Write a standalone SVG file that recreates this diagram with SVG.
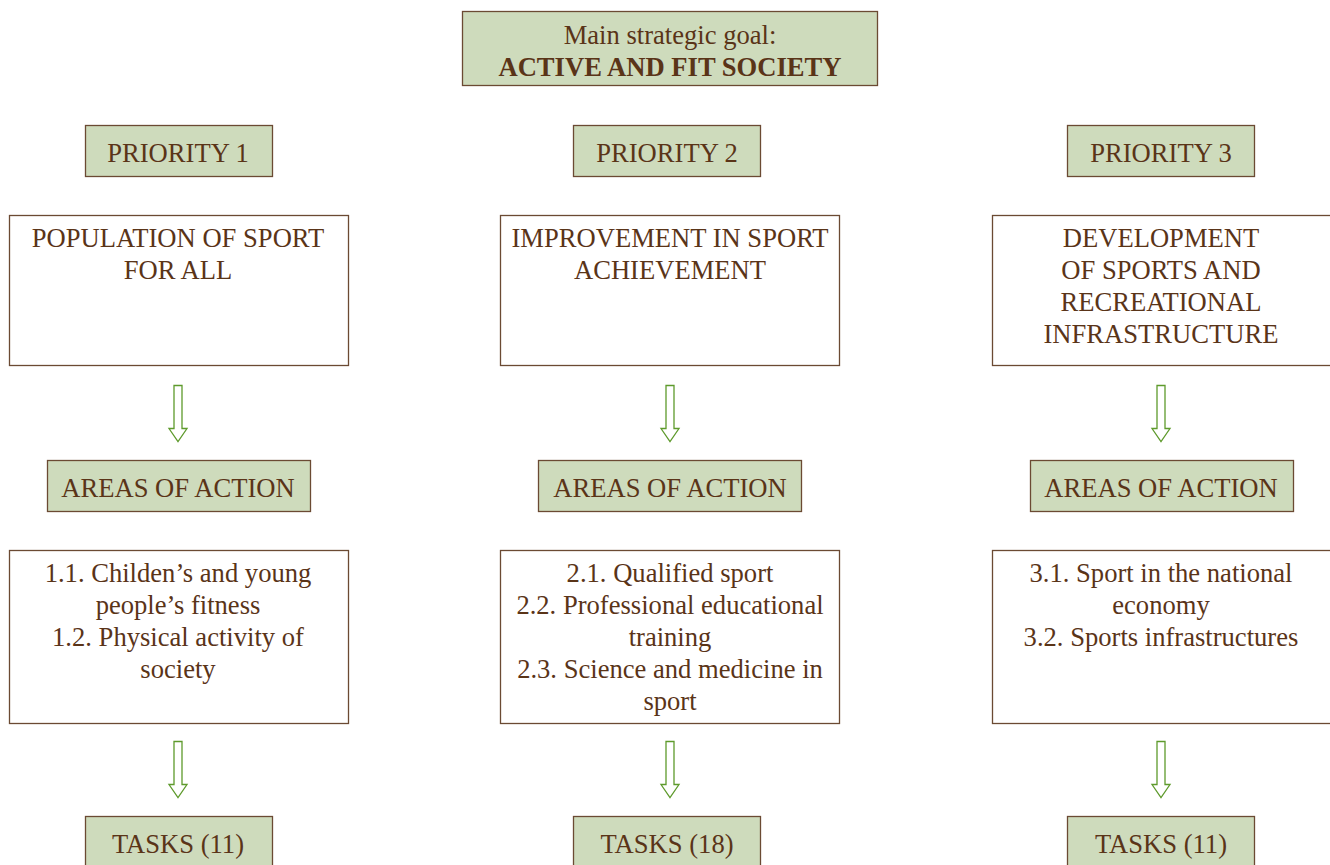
<svg xmlns="http://www.w3.org/2000/svg" width="1330" height="865" viewBox="0 0 1330 865">
<defs>
<style>
.g{fill:#cedbbc;stroke:#6b4a33;stroke-width:1.3}
.w{fill:#fff;stroke:#6b4a33;stroke-width:1.3}
text{font-family:"Liberation Serif","Times New Roman",serif;font-size:26.6px;fill:#5a3418;text-anchor:middle}
.b{font-weight:bold}
.ar{fill:#fff;stroke:#5e9a2c;stroke-width:1.3}
</style>
<path id="arrow" class="ar" d="M-4,0 H4 V43 H9 L0,56 L-9,43 H-4 Z"/>
</defs>
<rect width="1330" height="865" fill="#fff"/>
<g id="goal"><rect class="g" x="462.5" y="11.5" width="415" height="74"/><text x="670" y="44">Main strategic goal:</text><text class="b" x="670" y="76">ACTIVE AND FIT SOCIETY</text></g>
<g id="p1"><rect class="g" x="85.5" y="125.5" width="187" height="51"/><text x="178" y="162">PRIORITY 1</text></g>
<g id="p2"><rect class="g" x="573.5" y="125.5" width="187" height="51"/><text x="667" y="162">PRIORITY 2</text></g>
<g id="p3"><rect class="g" x="1067.5" y="125.5" width="187" height="51"/><text x="1161" y="162">PRIORITY 3</text></g>
<g id="b1"><rect class="w" x="9.5" y="215.5" width="339" height="150"/><text x="178" y="247">POPULATION OF SPORT</text><text x="178" y="279">FOR ALL</text></g>
<g id="b2"><rect class="w" x="500.5" y="215.5" width="339" height="150"/><text x="670" y="247">IMPROVEMENT IN SPORT</text><text x="670" y="279">ACHIEVEMENT</text></g>
<g id="b3"><rect class="w" x="992.5" y="215.5" width="345" height="150"/><text x="1161" y="247">DEVELOPMENT</text><text x="1161" y="279">OF SPORTS AND</text><text x="1161" y="311">RECREATIONAL</text><text x="1161" y="343">INFRASTRUCTURE</text></g>
<g id="a1"><rect class="g" x="47.5" y="460.5" width="263" height="51"/><text x="178" y="497">AREAS OF ACTION</text></g>
<g id="a2"><rect class="g" x="538.5" y="460.5" width="263" height="51"/><text x="670" y="497">AREAS OF ACTION</text></g>
<g id="a3"><rect class="g" x="1030.5" y="460.5" width="263" height="51"/><text x="1161" y="497">AREAS OF ACTION</text></g>
<g id="d1"><rect class="w" x="9.5" y="550.5" width="339" height="173"/><text x="178" y="582">1.1. Childen’s and young</text><text x="178" y="614">people’s fitness</text><text x="178" y="646">1.2. Physical activity of</text><text x="178" y="678">society</text></g>
<g id="d2"><rect class="w" x="500.5" y="550.5" width="339" height="173"/><text x="670" y="582">2.1. Qualified sport</text><text x="670" y="614">2.2. Professional educational</text><text x="670" y="646">training</text><text x="670" y="678">2.3. Science and medicine in</text><text x="670" y="710">sport</text></g>
<g id="d3"><rect class="w" x="992.5" y="550.5" width="345" height="173"/><text x="1161" y="582">3.1. Sport in the national</text><text x="1161" y="614">economy</text><text x="1161" y="646">3.2. Sports infrastructures</text></g>
<g id="t1"><rect class="g" x="85.5" y="816.5" width="187" height="60"/><text x="178" y="853">TASKS (11)</text></g>
<g id="t2"><rect class="g" x="573.5" y="816.5" width="187" height="60"/><text x="667" y="853">TASKS (18)</text></g>
<g id="t3"><rect class="g" x="1067.5" y="816.5" width="187" height="60"/><text x="1161" y="853">TASKS (11)</text></g>
<g id="connectors">
<use href="#arrow" x="178" y="385.5"/>
<use href="#arrow" x="670" y="385.5"/>
<use href="#arrow" x="1161" y="385.5"/>
<use href="#arrow" x="178" y="741.5"/>
<use href="#arrow" x="670" y="741.5"/>
<use href="#arrow" x="1161" y="741.5"/>
</g>
</svg>
